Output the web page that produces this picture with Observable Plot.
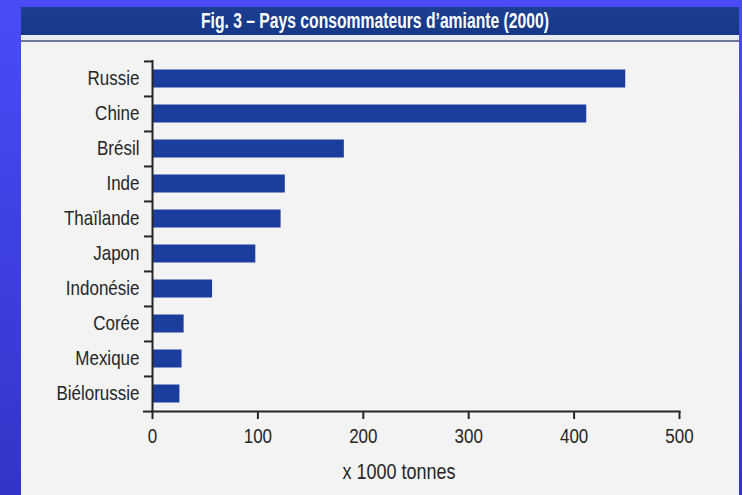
<!DOCTYPE html>
<html>
<head>
<meta charset="utf-8">
<script src="https://cdn.jsdelivr.net/npm/d3@7"></script>
<script src="https://cdn.jsdelivr.net/npm/@observablehq/plot@0.6"></script>
<style>
  html, body { margin: 0; padding: 0; }
  body {
    width: 742px; height: 495px; overflow: hidden; position: relative;
    background: linear-gradient(#4a4cf8, #3434c8);
  }
  #page {
    position: absolute; left: 21px; top: 7px; width: 718px; height: 488px;
    background: #f3f3f3; overflow: hidden;
  }
  #title {
    height: 28px; background: linear-gradient(#1c3f92, #163886); color: #fff;
    font-family: "Liberation Sans", Arial, sans-serif; font-weight: bold; font-size: 22px;
    line-height: 28px; text-align: center; padding-right: 10px; white-space: nowrap;
  }
  #title span { display: inline-block; transform-origin: center; }
  #rule { height: 5px; background: #e9eaef; border-bottom: 2px solid #6f7898; }
  #chart svg { display: block; }
</style>
</head>
<body>
<div id="page">
  <div id="title"><span>Fig. 3 – Pays consommateurs d’amiante (2000)</span></div>
  <div id="rule"></div>
  <div id="chart"></div>
</div>
<script>
// Asbestos consumption by country, 2000 (thousand tonnes)
const countries = ["Russie", "Chine", "Brésil", "Inde", "Thaïlande", "Japon", "Indonésie", "Corée", "Mexique", "Biélorussie"];
const consumption = [449, 412, 182, 126, 122, 98, 57, 30, 28, 26];
const xTicks = [0, 100, 200, 300, 400, 500];
const axisTitle = "x 1000 tonnes";

const rows = countries.map((country, i) => ({country, value: consumption[i]}));

// condensed bold heading
const head = document.querySelector("#title span");
head.style.transform = `scaleX(${348 / head.getBoundingClientRect().width})`;

const W = 718, H = 453;
const mTop = 18, mBottom = 84;
const band = (H - mTop - mBottom) / countries.length;
const ink = "#262626";

const chart = Plot.plot({
  width: W,
  height: H,
  marginLeft: 131,
  marginRight: 60,
  marginTop: mTop,
  marginBottom: mBottom,
  style: {background: "transparent", fontFamily: "'Liberation Sans', Arial, sans-serif", fontSize: "17px", color: ink},
  x: {domain: [0, 500]},
  y: {domain: countries, padding: 0},
  marks: [
    Plot.barX(rows, {y: "country", x: "value", fill: "#1b3d9e", insetTop: 8.5, insetBottom: 8.5}),
    // category ticks sit on the band boundaries
    Plot.axisY({tickSize: 8, text: null, label: null, dy: -band / 2, strokeWidth: 2, stroke: ink}),
    Plot.axisY({ticks: [countries[countries.length - 1]], tickSize: 9, text: null, label: null, dy: band / 2, strokeWidth: 2, stroke: ink}),
    Plot.axisY({tickSize: 0, tickPadding: 13, label: null, fill: ink}),
    Plot.axisX({ticks: xTicks, tickSize: 8, tickPadding: 9, strokeWidth: 2, stroke: ink, fill: ink, label: null}),
    Plot.ruleX([0], {stroke: ink, strokeWidth: 2}),
    Plot.frame({anchor: "bottom", stroke: ink, strokeWidth: 2}),
    Plot.text([axisTitle], {frameAnchor: "bottom", dy: 67, dx: -17, fontSize: 18, fill: ink})
  ]
});

// the printed lettering is tall and narrow: stretch each label vertically about its anchor
chart.querySelectorAll("text").forEach((t) => {
  const tr = t.getAttribute("transform");
  if (tr) t.setAttribute("transform", tr + " scale(1,1.18)");
  else {
    const x = +t.getAttribute("x") || 0, y = +t.getAttribute("y") || 0;
    t.setAttribute("transform", `translate(${x},${y}) scale(1,1.18) translate(${-x},${-y})`);
  }
});

document.getElementById("chart").appendChild(chart);
</script>
</body>
</html>
